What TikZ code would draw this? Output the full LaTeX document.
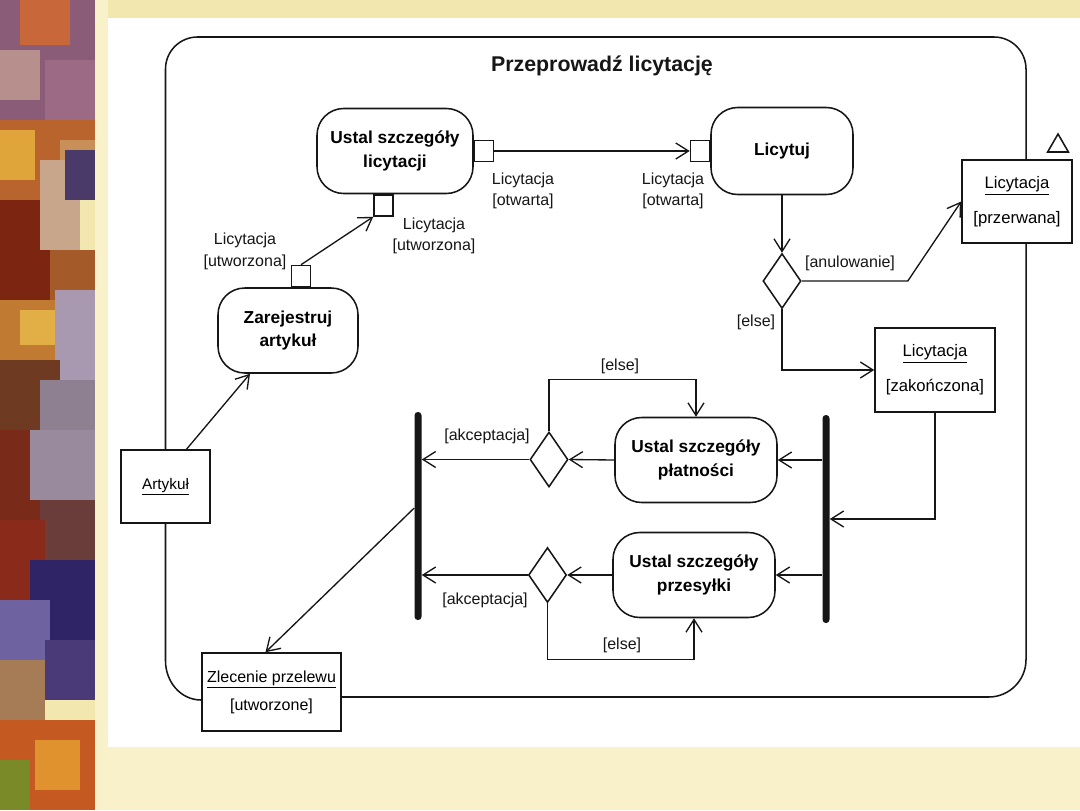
\documentclass[tikz,border=0pt]{standalone}
\usepackage{fontspec}
\setmainfont{Liberation Sans}
\usetikzlibrary{arrows.meta,shapes.geometric,calc}
\definecolor{bgy}{HTML}{F2E7AE}
\definecolor{bgl}{HTML}{F8F1C9}
\definecolor{ink}{HTML}{161616}
\newcommand\mosblk[5]{\definecolor{mostmp}{HTML}{#1}\fill[mostmp] (#2,#3) rectangle (#4,#5);}
\begin{document}
\begin{tikzpicture}[x=0.75pt,y=-0.75pt,
  ink/.style={draw=ink, line width=1.15pt},
  act/.style={ink, rounded corners=20pt, align=center, inner sep=0pt,
    font=\fontsize{13}{17.5}\selectfont\bfseries},
  obj/.style={ink, rectangle, align=center, inner sep=0pt,
    font=\fontsize{12.5}{15}\selectfont},
  pinbox/.style={ink, rectangle, fill=white, inner sep=0pt, minimum width=14.25pt, minimum height=15.75pt},
  bar/.style={rectangle, fill=ink, inner sep=0pt, rounded corners=2.5pt, minimum width=5.25pt, minimum height=156pt},
  dec/.style={ink, diamond, aspect=0.7, inner sep=0pt, minimum width=28.5pt, minimum height=41.25pt},
  lbl/.style={align=center, inner sep=0pt, font=\fontsize{12}{16}\selectfont, text=ink},
  flow/.style={draw=ink, line width=1pt, -{Straight Barb[length=9.5pt,width=12pt,line width=1pt]}},
  frame/.style={draw=ink, line width=1.15pt}
]
\useasboundingbox (0,0) rectangle (1080,810);
% slide background
\fill[bgy] (0,0) rectangle (1080,810);
\fill[bgl] (95,0) rectangle (108,810);
\fill[bgl] (108,747) rectangle (1080,810);
% decorative left strip
\mosblk{8A5C78}{0}{0}{95}{120}
\mosblk{C8673A}{20}{0}{70}{45}
\mosblk{B7908E}{0}{50}{40}{100}
\mosblk{9C6A84}{45}{60}{95}{125}
\mosblk{B9642C}{0}{120}{95}{200}
\mosblk{E0A53A}{0}{130}{35}{180}
\mosblk{C89058}{60}{140}{95}{190}
\mosblk{7C2612}{0}{200}{50}{300}
\mosblk{C8A68C}{40}{160}{80}{250}
\mosblk{4A3A6A}{65}{150}{95}{200}
\mosblk{A55A2A}{50}{250}{95}{300}
\mosblk{C07A32}{0}{300}{95}{360}
\mosblk{E2AE46}{20}{310}{60}{345}
\mosblk{A898B0}{55}{290}{95}{380}
\mosblk{6E3A22}{0}{360}{60}{430}
\mosblk{8E8090}{40}{380}{95}{440}
\mosblk{7A2A18}{0}{430}{50}{520}
\mosblk{9A8A9E}{30}{430}{95}{500}
\mosblk{6A3C3A}{40}{500}{95}{560}
\mosblk{8A2A1A}{0}{520}{45}{600}
\mosblk{2E2466}{30}{560}{95}{640}
\mosblk{6E62A0}{0}{600}{50}{660}
\mosblk{4A3A78}{45}{640}{95}{700}
\mosblk{A67C56}{0}{660}{45}{720}
\mosblk{C45A22}{0}{720}{95}{810}
\mosblk{7A8A28}{0}{760}{30}{810}
\mosblk{E0922E}{35}{740}{80}{790}
% scanned page
\fill[white] (108,18) rectangle (1080,747);

% frame anchors
\coordinate (fTL) at (166,37);
\coordinate (fTR) at (1026,37);
\coordinate (fBR) at (1026,697);

% title
\node[font=\fontsize{16}{18}\selectfont\bfseries, text=ink] (title) at (602,66) {Przeprowadź licytację};

% actions
\node[act, minimum width=117pt, minimum height=63.75pt] (usl) at (395,151) {Ustal szczegóły\\licytacji};
\node[act, minimum width=105pt, minimum height=63.75pt] (zar) at (288,330.5) {Zarejestruj\\artykuł};
\node[act, minimum width=106.5pt, minimum height=65.25pt] (lic) at (782,151) {Licytuj};
\node[act, minimum width=121.5pt, minimum height=63.75pt] (plat) at (696,460) {Ustal szczegóły\\płatności};
\node[act, minimum width=121.5pt, minimum height=63.75pt] (prze) at (694,575) {Ustal szczegóły\\przesyłki};

% pins
\node[pinbox, anchor=south] (p1) at ($(zar.north)+(13,0)$) {};
\node[pinbox, anchor=north] (p2) at ($(usl.south)+(-11.5,0)$) {};
\node[pinbox, anchor=west] (p3) at (usl.east) {};
\node[pinbox, anchor=east] (p4) at (lic.west) {};

% objects
\node[obj, minimum width=82.5pt, minimum height=62.25pt] (prz) at (1017,201.5) {\underline{Licytacja}\\[11pt][przerwana]};
\node[obj, minimum width=90pt, minimum height=63pt] (zak) at (935,370) {\underline{Licytacja}\\[11pt][zakończona]};
\node[obj, minimum width=66.75pt, minimum height=54.75pt, font=\fontsize{11.5}{13}\selectfont] (art) at (165.5,486.5) {\underline{Artykuł}};
\node[obj, minimum width=104.25pt, minimum height=58.5pt, font=\fontsize{12}{15}\selectfont] (zle) at (271.5,692) {\underline{Zlecenie przelewu}\\[6pt][utworzone]};
\node[draw=ink, line width=1.15pt, isosceles triangle, isosceles triangle apex angle=60, shape border rotate=90, inner sep=0pt, minimum height=13.5pt] (tri) at (1058,146) {};

% decisions and bars
\node[dec] (d1) at (782,281) {};
\node[dec] (d2) at (549,459.5) {};
\node[dec] (d3) at (547.5,575) {};
\node[bar] (barL) at (418,516) {};
\node[bar] (barR) at (826,519) {};

% frame
\draw[frame, rounded corners=24pt] (art.north) -- (art.north |- fTL) -- (fTR) -- (fTR |- prz.north);
\draw[frame, rounded corners=28pt] (fTR |- prz.south) -- (fBR) -- (fBR -| zle.east);
\draw[frame] (art.south) -- ++(0,137) to[out=-90,in=180] ($(zle.west)+(0,8)$);

% flows
\draw[flow] ($(art.north)+(21,0)$) -- ($(zar.south)+(-38,0)$);
\draw[flow] (p1.north) -- (p2.south west);
\draw[flow] (p3.east) -- (p4.west);
\draw[flow] (lic.south) -- (d1.north);
\draw[flow] (d1.east) -- ++(106,0) -- (prz.west);
\draw[flow] (d1.south) |- (zak.west);
\draw[flow] (zak.south) |- (barR.east);
\draw[flow] (barR.west |- plat.east) -- (plat.east);
\draw[flow] (barR.west |- prze.east) -- (prze.east);
\draw[flow] (plat.west) -- (d2.east);
\draw[flow] (prze.west) -- (d3.east);
\draw[flow] (d2.west) -- (d2.west -| barL.east);
\draw[flow] (d3.west) -- (d3.west -| barL.east);
\draw[flow] (d2.north) -- ++(0,-52) -| (plat.north);
\draw[flow] (d3.south) -- ++(0,56) -| (prze.south);
\draw[flow] ($(barL.west)+(0,-8)$) -- ($(zle.north)+(-6,0)$);

% labels
\node[lbl] (l1) at (245,251.5) {Licytacja\\{}[utworzona]};
\node[lbl] (l2) at (434,236) {Licytacja\\{}[utworzona]};
\node[lbl] (l3) at (523,191) {Licytacja\\{}[otwarta]};
\node[lbl] (l4) at (673,191) {Licytacja\\{}[otwarta]};
\node[lbl] (l5) at (850,263) {[anulowanie]};
\node[lbl] (l6) at (756,322) {[else]};
\node[lbl] (l7) at (620,366) {[else]};
\node[lbl] (l8) at (622,645) {[else]};
\node[lbl] (l9) at (487,436) {[akceptacja]};
\node[lbl] (l10) at (485,600) {[akceptacja]};
\end{tikzpicture}
\end{document}
